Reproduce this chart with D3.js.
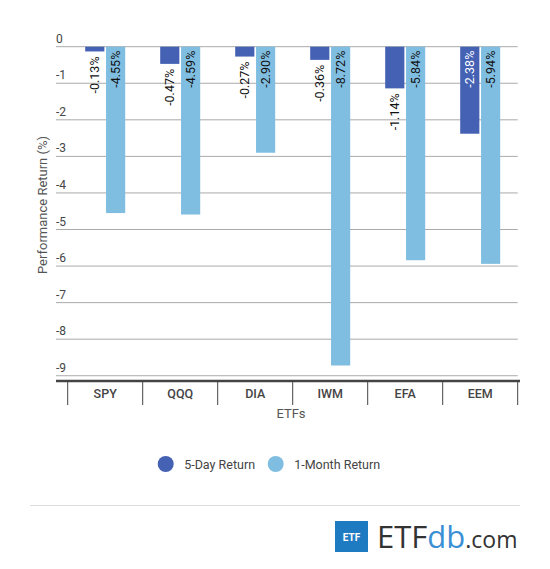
<!DOCTYPE html>
<html>
<head>
<meta charset="utf-8">
<script src="https://cdn.jsdelivr.net/npm/d3@7"></script>
<style>
  html, body { margin: 0; padding: 0; background: #fff; }
  svg { display: block; font-family: Roboto, "Noto Sans", sans-serif; }
</style>
</head>
<body>
<svg id="chart" width="550" height="569"></svg>
<script>
const categories = ["SPY", "QQQ", "DIA", "IWM", "EFA", "EEM"];
const seriesNames = ["5-Day Return", "1-Month Return"];
const fiveDay = [-0.13, -0.47, -0.27, -0.36, -1.14, -2.38];
const oneMonth = [-4.55, -4.59, -2.90, -8.72, -5.84, -5.94];
const yTicks = [0, -1, -2, -3, -4, -5, -6, -7, -8, -9];
const colors = ["#4461b3", "#80bee1"];

const svg = d3.select("#chart");
const gridLeft = 56, plotLeft = 67.7, plotRight = 517.7;
const y = d3.scaleLinear().domain([0, -9.13]).range([46.7, 380.5]);
const x0 = d3.scaleBand().domain(categories).range([plotLeft, plotRight]);
const x1 = d3.scaleBand().domain(seriesNames).range([0, 40]).paddingInner(0.08);
const groupOffset = (x0.bandwidth() - 40) / 2;

// gridlines + tick labels
const grid = svg.append("g");
grid.selectAll("line").data(yTicks).join("line")
  .attr("x1", gridLeft).attr("x2", plotRight)
  .attr("y1", d => y(d)).attr("y2", d => y(d))
  .attr("stroke", "#aaa").attr("stroke-width", 1);
grid.selectAll("text").data(yTicks).join("text")
  .attr("x", gridLeft).attr("y", d => y(d) - 4)
  .attr("font-size", 12).attr("fill", "#444")
  .text(d => d3.format("d")(d).replace("−", "-"));

// bars
const rows = categories.map((c, i) => ({c, vals: [fiveDay[i], oneMonth[i]]}));
const groups = svg.append("g").selectAll("g").data(rows).join("g")
  .attr("transform", d => `translate(${x0(d.c) + groupOffset},0)`);
groups.selectAll("rect").data(d => d.vals.map((v, k) => ({v, k}))).join("rect")
  .attr("x", d => x1(seriesNames[d.k]))
  .attr("width", x1.bandwidth())
  .attr("y", y(0))
  .attr("height", d => y(d.v) - y(0))
  .attr("fill", d => colors[d.k]);

// value labels
const fmt = v => v.toFixed(2) + "%";
groups.selectAll("text").data(d => d.vals.map((v, k) => ({v, k}))).join("text")
  .each(function(d) {
    const barLen = y(d.v) - y(0);
    const inside = barLen > 50;
    const cx = x1(seriesNames[d.k]) + x1.bandwidth() / 2;
    const ty = inside ? y(0) + 4 : y(d.v) + 5;
    d3.select(this)
      .attr("transform", `translate(${cx + 4.5},${ty}) rotate(-90)`)
      .attr("text-anchor", "end")
      .attr("font-size", 12.5)
      .attr("fill", inside && d.k === 0 ? "#fff" : "#111")
      .text(fmt(d.v));
  });

// bottom axis
svg.append("line").attr("x1", gridLeft).attr("x2", 520)
  .attr("y1", 381).attr("y2", 381).attr("stroke", "#444").attr("stroke-width", 2.5);
const seps = categories.map(c => x0(c)).concat([plotRight]);
svg.append("g").selectAll("line").data(seps).join("line")
  .attr("x1", d => d).attr("x2", d => d).attr("y1", 381).attr("y2", 405)
  .attr("stroke", "#444").attr("stroke-width", 1);
svg.append("g").selectAll("text").data(categories).join("text")
  .attr("x", d => x0(d) + x0.bandwidth() / 2).attr("y", 398)
  .attr("text-anchor", "middle").attr("font-size", 12.5).attr("font-weight", 500)
  .attr("fill", "#444").text(d => d);

// axis titles
svg.append("text").attr("x", 291).attr("y", 418).attr("text-anchor", "middle")
  .attr("font-size", 13).attr("fill", "#555").text("ETFs");
svg.append("text").attr("transform", "translate(47,205) rotate(-90)")
  .attr("text-anchor", "middle").attr("font-size", 13).attr("fill", "#555")
  .text("Performance Return (%)");

// legend
const legend = svg.append("g");
const legX = [165.7, 275.7];
seriesNames.forEach((s, k) => {
  legend.append("circle").attr("cx", legX[k]).attr("cy", 464).attr("r", 8).attr("fill", colors[k]);
  legend.append("text").attr("x", legX[k] + 18.5).attr("y", 468.5)
    .attr("font-size", 12.5).attr("fill", "#444").text(s);
});

// footer
svg.append("line").attr("x1", 30).attr("x2", 520).attr("y1", 505.5).attr("y2", 505.5)
  .attr("stroke", "#ddd").attr("stroke-width", 1);
svg.append("rect").attr("x", 335).attr("y", 521).attr("width", 33).attr("height", 31).attr("fill", "#1f7bc1");
svg.append("text").attr("x", 351.5).attr("y", 541).attr("text-anchor", "middle")
  .attr("font-size", 10).attr("font-weight", 700).attr("fill", "#fff").text("ETF");
const logo = svg.append("text").attr("x", 377).attr("y", 548).attr("font-size", 31)
  .attr("font-family", "'Open Sans', 'DejaVu Sans', sans-serif").attr("font-weight", 400);
logo.append("tspan").attr("fill", "#333").text("ETF");
logo.append("tspan").attr("fill", "#3b8fd4").text("db");
logo.append("tspan").attr("fill", "#333").attr("font-size", 23).text(".com");
</script>
</body>
</html>
